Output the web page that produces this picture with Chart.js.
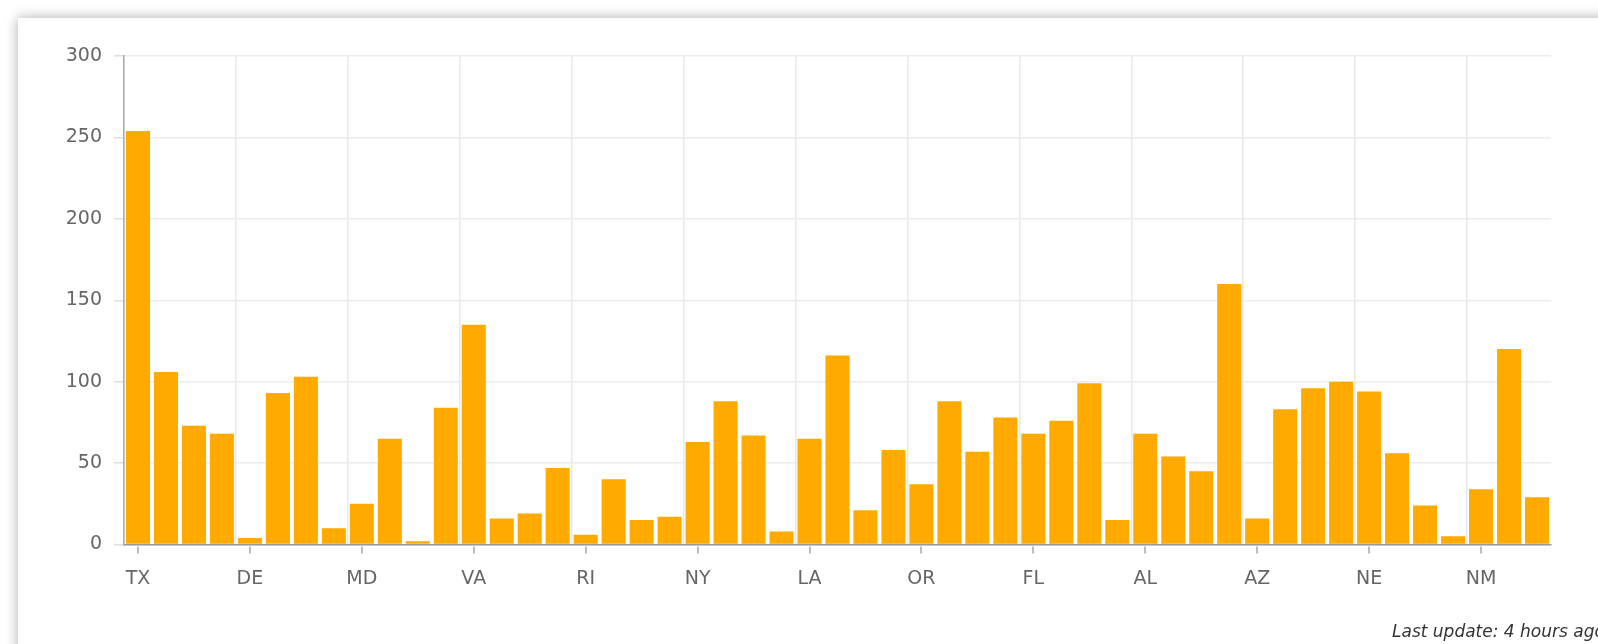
<!DOCTYPE html>
<html>
<head>
<meta charset="utf-8">
<script src="https://cdn.jsdelivr.net/npm/chart.js@4/dist/chart.umd.min.js"></script>
<style>
  html, body { margin: 0; padding: 0; width: 1598px; height: 644px; overflow: hidden; background: #fff; }
  .card {
    position: absolute; left: 18px; top: 18px; width: 1700px; height: 800px;
    background: #fff; box-shadow: 0 0 12px rgba(0, 0, 0, 0.33);
  }
  #grafico { position: absolute; left: 0; top: 0; }
  .atualizado {
    position: absolute; left: 1392px; top: 621px; white-space: nowrap;
    font: italic 17px "DejaVu Sans", sans-serif; color: #333;
  }
</style>
</head>
<body>
<div class="card"></div>
<canvas id="grafico" width="1598" height="644"></canvas>
<div class="atualizado">Last update: 4 hours ago</div>
<script>
const estados = [
  "TX", "CA", "WA", "GA", "DE", "NC", "PA", "WV", "MD", "IL", "VT", "OH", "VA",
  "KY", "CT", "MI", "RI", "MN", "NH", "ME", "NY", "MA", "TN", "WY", "LA", "NJ",
  "SD", "MO", "OR", "IN", "SC", "WI", "FL", "KS", "CO", "ND", "AL", "OK", "IA",
  "NV", "AZ", "UT", "MS", "AR", "NE", "ID", "MT", "DC", "NM", "HI", "AK"
];
const casos = [
  254, 106, 73, 68, 4, 93, 103, 10, 25, 65, 2, 84, 135,
  16, 19, 47, 6, 40, 15, 17, 63, 88, 67, 8, 65, 116,
  21, 58, 37, 88, 57, 78, 68, 76, 99, 15, 68, 54, 45,
  160, 16, 83, 96, 100, 94, 56, 24, 5, 34, 120, 29
];
const marcasY = [0, 50, 100, 150, 200, 250, 300];

const cinza = "#666";
const fonteEixo = { family: "DejaVu Sans", size: 19 };

// marquinhas do eixo x só embaixo das siglas que aparecem
const marcasX = {
  id: "marcasX",
  afterDraw(chart) {
    const x = chart.scales.x;
    const ctx = chart.ctx;
    ctx.save();
    ctx.strokeStyle = "#bbb";
    ctx.lineWidth = 2;
    x.ticks.forEach((t, i) => {
      if (i % 4 !== 0) return;
      const px = Math.round(x.getPixelForTick(i));
      ctx.beginPath();
      ctx.moveTo(px, x.top + 2);
      ctx.lineTo(px, x.top + 9);
      ctx.stroke();
    });
    ctx.restore();
  },
};

const grafico = new Chart(document.getElementById("grafico"), {
  type: "bar",
  data: {
    labels: estados,
    datasets: [
      {
        label: "Casos",
        data: casos,
        backgroundColor: "#ffaa00",
        borderWidth: 0,
        barPercentage: 0.86,
        categoryPercentage: 1,
      },
    ],
  },
  options: {
    responsive: false,
    animation: false,
    layout: { padding: { left: 0, top: 56, right: 47, bottom: 0 } },
    plugins: {
      legend: { display: false },
      tooltip: { enabled: false },
    },
    scales: {
      x: {
        afterFit: (scale) => { scale.height = 99.5; },
        border: { color: "#999", width: 1.5 },
        grid: {
          offset: true,
          drawTicks: false,
          lineWidth: 1.5,
          color: (c) => (c.index % 4 === 0 ? "#e9e9e9" : "rgba(0,0,0,0)"),
        },
        ticks: {
          autoSkip: false,
          maxRotation: 0,
          padding: 23,
          color: cinza,
          font: fonteEixo,
          callback: function (v, i) {
            return i % 4 === 0 ? this.getLabelForValue(v) : "";
          },
        },
      },
      y: {
        min: 0,
        max: 300,
        afterFit: (scale) => { scale.width = 124; },
        afterBuildTicks: (scale) => {
          scale.ticks = marcasY.map((v) => ({ value: v }));
        },
        border: { color: "#aaa", width: 1.5 },
        grid: {
          color: "#ececec",
          lineWidth: 1.5,
          tickLength: 10,
          tickColor: "#ddd",
        },
        ticks: {
          padding: 12,
          color: cinza,
          font: fonteEixo,
        },
      },
    },
  },
  plugins: [marcasX],
});
</script>
</body>
</html>
